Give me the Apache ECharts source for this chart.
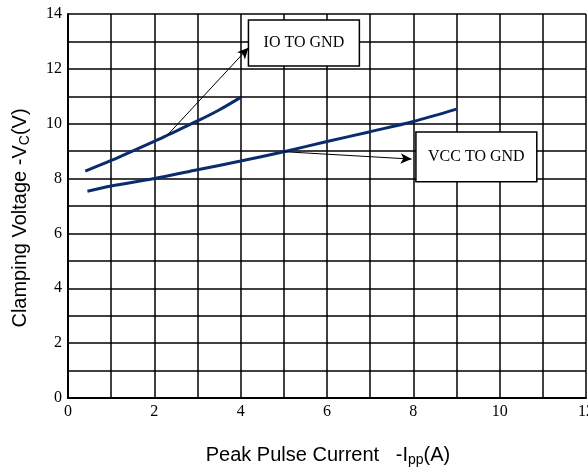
<!DOCTYPE html>
<html>
<head>
<meta charset="utf-8">
<script src="https://cdn.jsdelivr.net/npm/echarts@6/dist/echarts.min.js"></script>
<style>
html,body{margin:0;padding:0;background:#fff;}
#chart{width:588px;height:470px;}
</style>
</head>
<body>
<div id="chart"></div>
<script>
// ---- data ----
const ioCurrent = [0.4, 1, 2, 2.3, 3, 3.5, 4];
const ioVoltage = [8.27, 8.66, 9.36, 9.58, 10.1, 10.5, 10.96];
const vccCurrent = [0.45, 1, 2, 3, 4, 5, 6, 7, 8, 9];
const vccVoltage = [7.54, 7.73, 8.0, 8.32, 8.64, 8.98, 9.35, 9.71, 10.08, 10.53];
const xTickLabels = ['0', '2', '4', '6', '8', '10', '12'];
const yTickLabels = ['0', '2', '4', '6', '8', '10', '12', '14'];
const ioLabel = 'IO TO GND';
const vccLabel = 'VCC TO GND';
// annotation anchors (data units)
const ioArrowFrom = [2.3, 9.58], ioArrowTo = [4.18, 12.77];
const ioBox = [[4.18, 13.78], [6.75, 12.1]];
const vccArrowFrom = [5, 8.98], vccArrowTo = [7.96, 8.71];
const vccBox = [[8.06, 9.7], [10.86, 7.88]];

const pairs = (xs, ys) => xs.map((x, i) => [x, ys[i]]);
const navy = '#0b2c6c';
const serif = 'Liberation Serif';
const sans = 'Liberation Sans';

function annotations(label, from, to, box) {
  return {
    markLine: {
      silent: true, animation: false,
      symbol: ['none', 'arrow'], symbolSize: [8, 11],
      lineStyle: {color: '#000', width: 1, type: 'solid'},
      label: {show: false},
      emphasis: {disabled: true},
      data: [[{coord: from}, {coord: to}]]
    },
    markArea: {
      silent: true, animation: false,
      itemStyle: {color: '#fff', borderColor: '#000', borderWidth: 1.5},
      label: {show: true, position: 'inside', color: '#000', fontFamily: serif, fontSize: 16},
      emphasis: {disabled: true},
      data: [[{name: label, coord: box[0]}, {coord: box[1]}]]
    }
  };
}

const chart = echarts.init(document.getElementById('chart'));
chart.setOption({
  animation: false,
  backgroundColor: '#fff',
  grid: {left: 68, right: 2, top: 14, bottom: 72, containLabel: false, outerBoundsMode: 'none'},
  xAxis: {
    type: 'value', min: 0, max: 12, interval: 1,
    axisLine: {show: true, lineStyle: {color: '#000', width: 2}},
    axisTick: {show: false},
    splitLine: {show: true, lineStyle: {color: '#000', width: 1.5}},
    axisLabel: {
      color: '#000', fontFamily: serif, fontSize: 16, margin: 6, hideOverlap: false,
      formatter: v => xTickLabels.indexOf(String(v)) >= 0 ? String(v) : ''
    }
  },
  yAxis: {
    type: 'value', min: 0, max: 14, interval: 1,
    axisLine: {show: true, lineStyle: {color: '#000', width: 2}},
    axisTick: {show: false},
    splitLine: {show: true, lineStyle: {color: '#000', width: 1.5}},
    axisLabel: {
      color: '#000', fontFamily: serif, fontSize: 16, margin: 6,
      formatter: v => yTickLabels.indexOf(String(v)) >= 0 ? String(v) : ''
    }
  },
  graphic: [
    {
      type: 'text', x: 328, y: 455, silent: true,
      style: {
        text: '{n|Peak Pulse Current   -I}{s|pp}{n|(A)}',
        align: 'center', verticalAlign: 'middle',
        rich: {
          n: {fontFamily: sans, fontSize: 20, fill: '#000'},
          s: {fontFamily: sans, fontSize: 14, fill: '#000', padding: [10, 0, 0, 0]}
        }
      }
    },
    {
      type: 'text', x: 20, y: 218, rotation: Math.PI / 2, silent: true,
      style: {
        text: '{n|Clamping Voltage -V}{s|C}{n|(V)}',
        align: 'center', verticalAlign: 'middle',
        rich: {
          n: {fontFamily: sans, fontSize: 20, fill: '#000'},
          s: {fontFamily: sans, fontSize: 14, fill: '#000', padding: [10, 0, 0, 0]}
        }
      }
    }
  ],
  series: [
    Object.assign({
      name: ioLabel, type: 'line', data: pairs(ioCurrent, ioVoltage),
      smooth: 0.3, showSymbol: false, symbol: 'none',
      lineStyle: {color: navy, width: 3}, z: 3
    }, annotations(ioLabel, ioArrowFrom, ioArrowTo, ioBox)),
    Object.assign({
      name: vccLabel, type: 'line', data: pairs(vccCurrent, vccVoltage),
      smooth: 0.3, showSymbol: false, symbol: 'none',
      lineStyle: {color: navy, width: 3}, z: 3
    }, annotations(vccLabel, vccArrowFrom, vccArrowTo, vccBox))
  ]
});
</script>
</body>
</html>
